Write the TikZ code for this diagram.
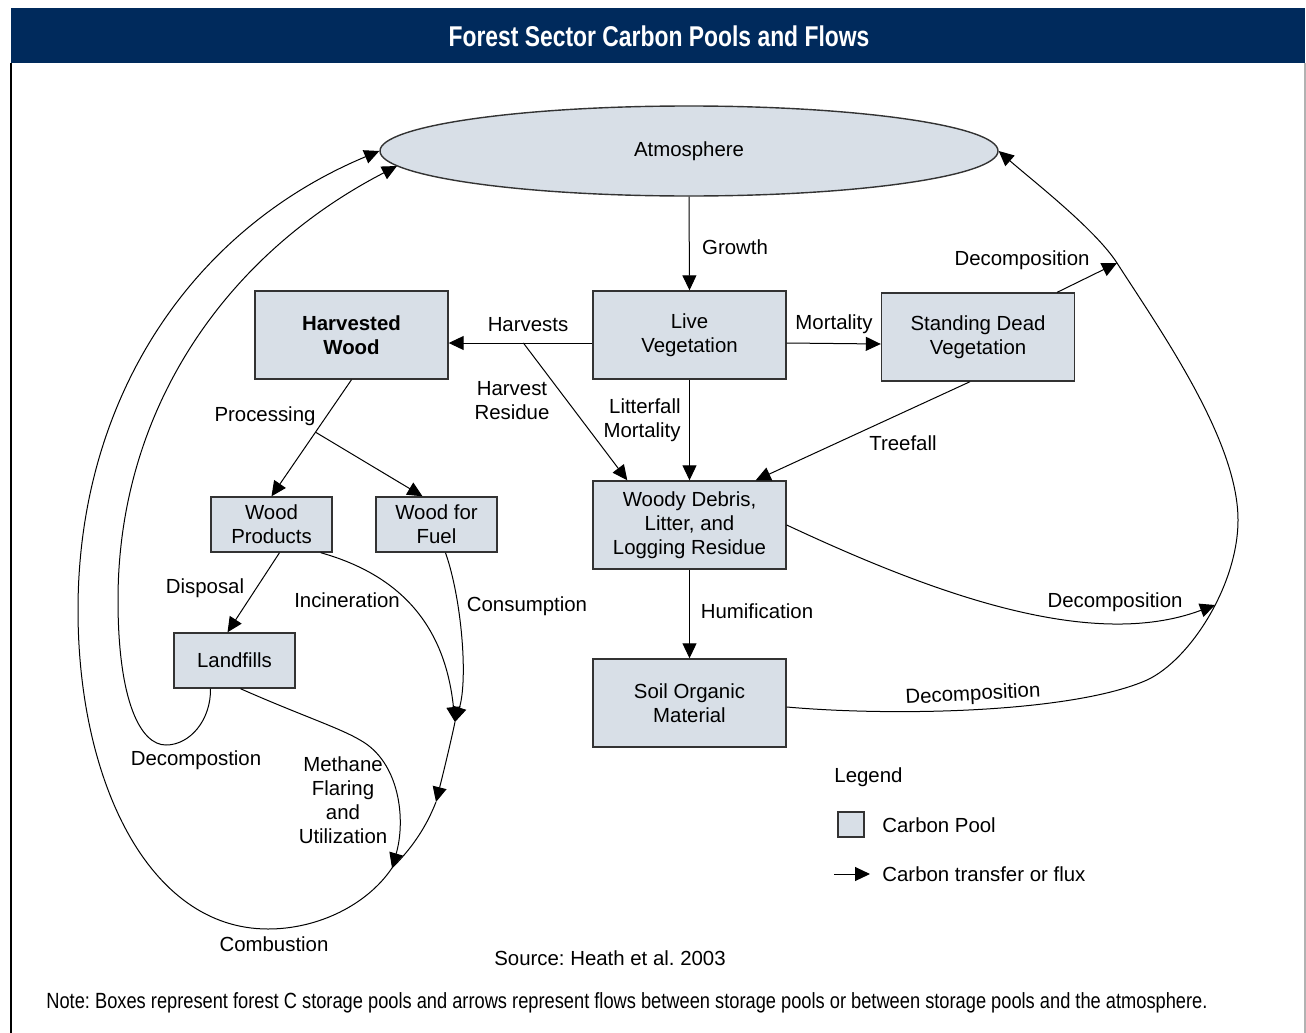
\documentclass[tikz,border=0pt]{standalone}
\usepackage{fontspec}
\setmainfont{Liberation Sans}
\newfontfamily\condfont[FakeStretch=0.8]{Liberation Sans}
\newfontfamily\notefont[FakeStretch=0.83]{Liberation Sans}
\usepackage{tikz}
\usetikzlibrary{positioning,arrows.meta,shapes.geometric}
\definecolor{poolfill}{RGB}{216,223,231}
\definecolor{titlebar}{RGB}{0,42,92}
\frenchspacing
\tikzset{
  pool/.style={draw=black!80,fill=poolfill,line width=0.7pt,align=center,
    inner sep=0pt,minimum width=96.5pt,minimum height=44pt},
  smallpool/.style={pool,minimum width=60.5pt,minimum height=27.5pt},
  flux/.style={-{Triangle[length=7.5pt,width=7pt]},line width=0.5pt}, % carbon flow
  link/.style={line width=0.5pt},                                       % flow, no head
  lbl/.style={inner sep=0pt,align=center},
}

\begin{document}
\begin{tikzpicture}[x=0.5pt,y=-0.5pt,font=\fontsize{10.2}{12}\selectfont]
  \useasboundingbox (0,0) rectangle (1306,1033);
  % frame and title
  \fill[titlebar] (11,8) rectangle (1305,63);
  \draw[line width=0.6pt] (11,63) -- (11,1033);
  \draw[black!30,line width=0.8pt] (1305,63) -- (1305,1033);
  \node[text=white,font=\condfont\bfseries\fontsize{14.3}{16}\selectfont] (title) at (659,36) {Forest Sector Carbon Pools and Flows};

  % pools
  \node[ellipse,draw=black!80,fill=poolfill,line width=0.7pt,minimum width=309pt,minimum height=45pt,inner sep=0pt] (atm) at (689,151) {Atmosphere};
  \node[pool] (live) at (689.5,335) {Live\\Vegetation};
  \node[pool,font=\fontsize{10.2}{12}\selectfont\bfseries] (harv) at (351.5,335) {Harvested\\Wood};
  \node[pool] (sdead) at (978,337) {Standing Dead\\Vegetation};
  \node[pool] (woody) at (689.5,525) {Woody Debris,\\Litter, and\\Logging Residue};
  \node[pool] (soil) at (689.5,703) {Soil Organic\\Material};
  \node[smallpool] (wprod) at (271.5,524.5) {Wood\\Products};
  \node[smallpool] (wfuel) at (436.5,524.5) {Wood for\\Fuel};
  \node[smallpool] (landf) at (234.5,660.5) {Landfills};

  % points where flows meet
  \coordinate (atmin) at (397,166);
  \coordinate (dec1) at (1117,263);
  \coordinate (dec2) at (1215,605);
  \coordinate (cmb1) at (455,722);
  \coordinate (cmb2) at (436,802);
  \coordinate (cmb3) at (392,868);

  % forest flows
  \draw[flux] (atm.south) -- (live.north);
  \draw[flux] ([yshift=-4pt]live.west) -- coordinate[pos=0.48] (hr) ([yshift=-4pt]harv.east);
  \draw[flux] (hr) -- ([xshift=17.5pt]woody.north west);
  \draw[flux] (live.south) -- (woody.north);
  \draw[flux] ([yshift=-4pt]live.east) -- ([yshift=-3.5pt]sdead.west);
  \draw[flux] ([xshift=-9pt]sdead.north east) -- (dec1);
  \draw[flux] ([xshift=-4pt]sdead.south) -- ([xshift=-15.5pt]woody.north east);
  \draw[flux] (woody.south) -- (soil.north);
  \draw[flux] (woody.east) .. controls (930,592) and (1090,652) .. (dec2);
  \draw[flux] ([yshift=-2pt]soil.east) .. controls (900,717) and (1075,712) .. (1147,680)
    .. controls (1190,660) and (1238,585) .. (1238,520)
    .. controls (1238,440) and (1160,330) .. (dec1)
    .. controls (1095,229) and (1033,181) .. (atm.east);

  % wood product flows
  \draw[flux] (harv.south) -- coordinate[pos=0.45] (pr) (wprod.north);
  \draw[flux] (pr) -- ([xshift=-7pt]wfuel.north);
  \draw[flux] ([xshift=4pt]wprod.south) -- ([xshift=-3.5pt]landf.north);
  \draw[flux] ([xshift=-6pt]wprod.south east) .. controls (400,575) and (445,625) .. (cmb1);
  \draw[flux] ([xshift=4.5pt]wfuel.south) .. controls (462,600) and (468,680) .. (cmb1);
  \draw[flux] (cmb1) .. controls (449,750) and (442,778) .. (cmb2);
  \draw[link] (cmb2) .. controls (425,830) and (410,850) .. (cmb3);
  \draw[flux] ([xshift=3pt]landf.south) .. controls (300,715) and (340,728) .. (360,740)
    .. controls (400,762) and (406,820) .. (cmb3);
  \draw[flux] (cmb3) .. controls (367,905) and (318,929) .. (268,929)
    .. controls (148,929) and (78,780) .. (78,610)
    .. controls (78,400) and (190,230) .. (atm.west);
  \draw[flux] ([xshift=-12pt]landf.south) .. controls (211,720) and (190,745) .. (166,745)
    .. controls (140,745) and (118,700) .. (118,600)
    .. controls (118,410) and (225,255) .. (atmin);

  % flow labels
  \node[lbl] (lgrow) at (735,247) {Growth};
  \node[lbl] (lharv) at (528,325) {Harvests};
  \node[lbl] (lhres) at (512,401) {Harvest\\Residue};
  \node[lbl,align=right,anchor=east] (llit) at (681,420) {Litterfall\\Mortality};
  \node[lbl] (lmort) at (834,324) {Mortality};
  \node[lbl] (ldec1) at (1022,260) {Decomposition};
  \node[lbl] (ltree) at (903,443) {Treefall};
  \node[lbl] (lhum) at (757,611) {Humification};
  \node[lbl] (ldec2) at (1115,602) {Decomposition};
  \node[lbl,rotate=3] (ldec3) at (973,695) {Decomposition};
  \node[lbl] (lproc) at (265,416) {Processing};
  \node[lbl] (ldisp) at (205,588) {Disposal};
  \node[lbl] (linc) at (347,600) {Incineration};
  \node[lbl] (lcons) at (527,606) {Consumption};
  \node[lbl] (ldecl) at (196,760) {Decompostion};
  \node[lbl] (lmeth) at (343,800) {Methane\\Flaring\\and\\Utilization};
  \node[lbl] (lcomb) at (274,944) {Combustion};

  % legend
  \node[lbl,anchor=west] (leg) at (834,777) {Legend};
  \node[pool,minimum width=13pt,minimum height=12.5pt] (legbox) at (851,824.5) {};
  \node[lbl,anchor=west] (legpool) at (882,825) {Carbon Pool};
  \coordinate (legA) at (834,874);
  \coordinate (legB) at (870,874);
  \draw[flux] (legA) -- (legB);
  \node[lbl,anchor=west] (legflux) at (882,874) {Carbon transfer or flux};

  % source and note
  \node[lbl] (src) at (610,958) {Source: Heath et al. 2003};
  \node[lbl,font=\notefont\fontsize{11}{13}\selectfont] (note) at (627,1003) {Note: Boxes represent forest C storage pools and arrows represent flows between storage pools or between storage pools and the atmosphere.};
\end{tikzpicture}
\end{document}
